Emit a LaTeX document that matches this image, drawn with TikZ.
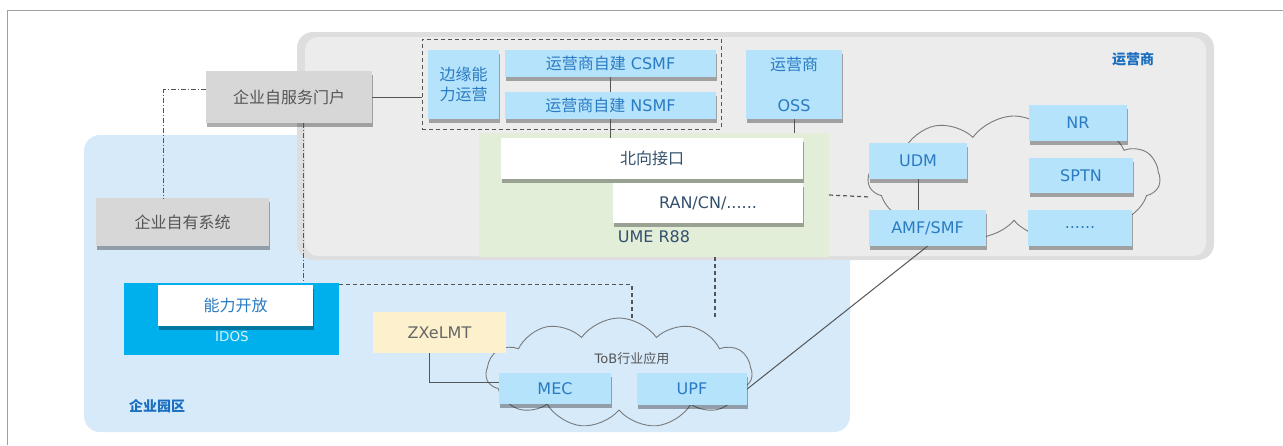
\documentclass[tikz,border=0pt]{standalone}
\usepackage{fontspec}
\setmainfont{DejaVu Sans}
\newfontfamily\cjkf{Noto Sans CJK SC}
\newcommand{\zh}[1]{{\cjkf #1}}
\usetikzlibrary{shapes.symbols,shadows,calc}
\definecolor{boxblue}{HTML}{B4E3FB}
\definecolor{txtblue}{HTML}{2B7BC2}
\definecolor{parkblue}{HTML}{D6EAFA}
\definecolor{opborder}{HTML}{DEDEDE}
\definecolor{opfill}{HTML}{ECECEC}
\definecolor{umegreen}{HTML}{E2EED8}
\definecolor{graybox}{HTML}{D7D7D7}
\definecolor{graytxt}{HTML}{555555}
\definecolor{idosblue}{HTML}{00B0EC}
\definecolor{beige}{HTML}{FDF0CD}
\definecolor{slate}{HTML}{34506D}
\definecolor{cloudgray}{HTML}{7A7A7A}
\definecolor{linegray}{HTML}{555555}
\definecolor{labelblue}{HTML}{1A6FC0}
\definecolor{framegray}{HTML}{A0A0A0}
\begin{document}
\begin{tikzpicture}[x=1pt,y=-1pt,
  f16/.style={font=\fontsize{16}{19}\selectfont},
  shad/.style={drop shadow={shadow xshift=0.5pt,shadow yshift=-3.5pt,fill=black,opacity=0.32}},
  nbox/.style={rectangle,fill=boxblue,text=txtblue,inner sep=0pt,f16,shad},
  wbox/.style={rectangle,fill=white,text=slate,inner sep=0pt,f16,shad},
  gbox/.style={rectangle,fill=graybox,text=graytxt,inner sep=0pt,f16,shad},
  cloudy/.style={cloud,cloud puffs=11,cloud puff arc=110,draw=cloudgray,line width=0.9pt,inner sep=0pt},
  conn/.style={draw=linegray,line width=1pt},
  dconn/.style={draw=linegray,line width=1.2pt,dash pattern=on 4pt off 3pt},
  ddconn/.style={draw=linegray,line width=1pt,dash pattern=on 5pt off 2pt on 1pt off 2pt},
  grouplabel/.style={font=\fontsize{14}{16}\selectfont\cjkf\bfseries,text=labelblue}
]
\useasboundingbox (0,0) rectangle (1283,445);
% frame
\draw[framegray,line width=1pt] (7,445) -- (7,10) -- (1283,10);
% enterprise park
\fill[parkblue,rounded corners=16pt] (84,135) rectangle (850,432);
% operator area
\fill[opborder,rounded corners=16pt] (297,32) rectangle (1214,260);
\fill[opfill,rounded corners=13pt] (305,37) rectangle (1206,256);
% UME region
\node[rectangle,fill=umegreen,minimum width=350pt,minimum height=124pt,inner sep=0pt] (ume) at (654,195) {};
\node[f16,text=slate] (umel) at (654,237) {UME R88};

% clouds
\node[cloudy,aspect=2.4,minimum width=266pt,minimum height=110pt] (tob) at (619,373) {};
\node[cloudy,aspect=2.3,minimum width=292pt,minimum height=124pt] (rc) at (1014,178) {};
\node[font=\fontsize{13}{15}\selectfont,text=graytxt] (tobl) at (632,359) {ToB\zh{行业应用}};

% group labels
\node[grouplabel] (opl) at (1133,59) {运营商};
\node[grouplabel] (parkl) at (157,406) {企业园区};

% boxes
\node[gbox,minimum width=166pt,minimum height=52pt] (portal) at (289,97) {\zh{企业自服务门户}};
\node[gbox,minimum width=173pt,minimum height=48pt] (own) at (182.5,222) {\zh{企业自有系统}};
\node[draw=linegray,line width=1pt,dash pattern=on 4pt off 3pt,minimum width=299pt,minimum height=90pt,inner sep=0pt] (dbox) at (571.5,84) {};
\node[nbox,minimum width=71pt,minimum height=69pt,align=center,font=\fontsize{16}{20}\selectfont\cjkf] (edge) at (463.5,84.5) {边缘能\\力运营};
\node[nbox,minimum width=211pt,minimum height=27pt] (csmf) at (610.5,63.5) {\zh{运营商自建} CSMF};
\node[nbox,minimum width=211pt,minimum height=27pt] (nsmf) at (610.5,105.5) {\zh{运营商自建} NSMF};
\node[nbox,minimum width=96pt,minimum height=69pt,align=center,font=\fontsize{16}{41}\selectfont] (oss) at (794,84.5) {\zh{运营商}\\OSS};
\node[wbox,minimum width=302pt,minimum height=41pt] (nb) at (652,158.5) {\zh{北向接口}};
\node[wbox,minimum width=190pt,minimum height=40pt] (ran) at (708,203) {RAN/CN/......};
\node[nbox,minimum width=98pt,minimum height=36pt] (udm) at (918,161) {UDM};
\node[nbox,minimum width=117pt,minimum height=36pt] (amf) at (927.5,228) {AMF/SMF};
\node[nbox,minimum width=98pt,minimum height=36pt] (nr) at (1078,123) {NR};
\node[nbox,minimum width=104pt,minimum height=35pt] (sptn) at (1081,175.5) {SPTN};
\node[nbox,minimum width=104pt,minimum height=36pt] (dots) at (1080,228) {......};
\node[rectangle,fill=idosblue,minimum width=215pt,minimum height=72pt,inner sep=0pt] (idos) at (231.5,319) {};
\node[font=\fontsize{13.5}{16}\selectfont,text=white!85!idosblue] (idosl) at (232,337) {IDOS};
\node[wbox,text=txtblue,minimum width=155pt,minimum height=41pt] (nl) at (235.5,305.5) {\zh{能力开放}};
\node[rectangle,fill=beige,text=graytxt!90!white,f16,minimum width=133pt,minimum height=41pt,inner sep=0pt] (zx) at (439.5,332.5) {ZXeLMT};
\node[nbox,minimum width=112pt,minimum height=31pt] (mec) at (555,388.5) {MEC};
\node[nbox,minimum width=110pt,minimum height=32pt] (upf) at (692,389) {UPF};

% connectors
\coordinate (pd) at ($(portal.south)+(14,0)$);
\draw[ddconn] (portal.175) -| (own.128);
\draw[ddconn] (pd) -- (pd |- idos.north);
\draw[conn] (portal.east) -- (portal.east -| dbox.west);
\draw[conn] (csmf.south) -- (nsmf.north);
\draw[conn] (nsmf.south) -- (nsmf.south |- nb.north);
\draw[conn] (oss.south) -- (oss.south |- ume.north);
\draw[conn] (udm.south) -- (udm.south |- amf.north);
\coordinate (ie) at ($(idos.north east)+(0,2)$);
\coordinate (tt) at ($(tob.north)+(13,0)$);
\draw[dconn] (ie) -| (tt);
\coordinate (ub) at ($(ume.south)+(61,0)$);
\draw[dconn] (ub) -- (ub |- tob.north);
\coordinate (ue) at (ume.east);
\coordinate (rw) at ($(rc.west)+(2,19)$);
\draw[dconn] (ue) -- (rw);
\coordinate (zb) at ($(zx.south)+(-10,0)$);
\draw[conn] (zb) |- (mec.174);
\draw[conn] (amf.south) -- (upf.east);
\end{tikzpicture}
\end{document}
